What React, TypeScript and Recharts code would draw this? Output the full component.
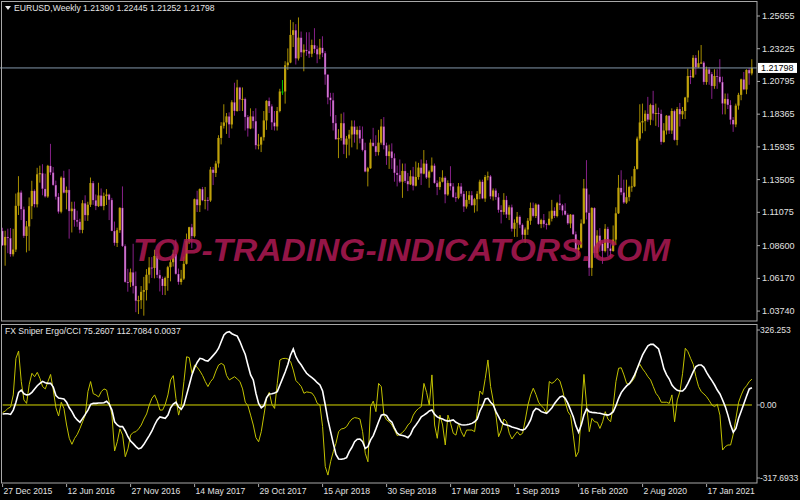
import React from "react";
import {
  ComposedChart,
  LineChart,
  Bar,
  Line,
  XAxis,
  YAxis,
  ReferenceLine,
} from "recharts";

// EURUSD weekly, week of 27 Dec 2015 .. week of 16 May 2021
// open of each week = close of the week before (first week given separately)
const firstOpen = 1.097;

const closes = [
  1.0862, 1.0925, 1.0916, 1.0796, 1.0831, 1.1156, 1.1255, 1.113, 1.0932, 1.1003,
  1.1153, 1.1267, 1.1167, 1.139, 1.1398, 1.1282, 1.1225, 1.1453, 1.1403, 1.131,
  1.1223, 1.1112, 1.1365, 1.1253, 1.1274, 1.1116, 1.1135, 1.105, 1.1038, 1.0977,
  1.1175, 1.1086, 1.1164, 1.1325, 1.1197, 1.1154, 1.1233, 1.1154, 1.1228, 1.124,
  1.12, 1.0969, 1.088, 1.0975, 1.1141, 1.0857, 1.059, 1.0588, 1.0662, 1.0561,
  1.045, 1.0455, 1.0517, 1.053, 1.0644, 1.0698, 1.0694, 1.0784, 1.0642, 1.0615,
  1.056, 1.062, 1.07, 1.0737, 1.0798, 1.065, 1.059, 1.0615, 1.0725, 1.0895,
  1.0997, 1.093, 1.1205, 1.116, 1.128, 1.1196, 1.12, 1.1195, 1.1425, 1.14,
  1.147, 1.166, 1.175, 1.1775, 1.182, 1.176, 1.1925, 1.186, 1.2035, 1.1945,
  1.195, 1.1815, 1.173, 1.182, 1.1785, 1.1605, 1.161, 1.1665, 1.179, 1.1935,
  1.1895, 1.1775, 1.1745, 1.186, 1.2005, 1.2005, 1.22, 1.222, 1.2425, 1.246,
  1.225, 1.2405, 1.2295, 1.2315, 1.2305, 1.2285, 1.235, 1.232, 1.228, 1.233,
  1.229, 1.213, 1.196, 1.194, 1.177, 1.165, 1.166, 1.177, 1.161, 1.1655,
  1.1685, 1.1745, 1.1685, 1.172, 1.1655, 1.157, 1.141, 1.1435, 1.1625, 1.16,
  1.1555, 1.1625, 1.1745, 1.1605, 1.1525, 1.156, 1.151, 1.14, 1.1385, 1.1335,
  1.1415, 1.134, 1.1315, 1.1375, 1.1305, 1.137, 1.144, 1.1395, 1.147, 1.1365,
  1.141, 1.1455, 1.1325, 1.1295, 1.1335, 1.1365, 1.124, 1.1325, 1.13, 1.122,
  1.1215, 1.13, 1.1245, 1.115, 1.12, 1.1235, 1.116, 1.1205, 1.1245, 1.1335,
  1.121, 1.137, 1.1375, 1.1225, 1.127, 1.122, 1.1125, 1.111, 1.12, 1.109,
  1.1145, 1.0985, 1.103, 1.1075, 1.1015, 1.094, 1.098, 1.1045, 1.114, 1.108,
  1.1165, 1.102, 1.105, 1.102, 1.1015, 1.106, 1.112, 1.108, 1.1175, 1.116,
  1.112, 1.109, 1.1025, 1.109, 1.0945, 1.083, 1.0845, 1.1025, 1.1285, 1.1105,
  1.0695, 1.114, 1.0805, 1.0935, 1.0875, 1.082, 1.0985, 1.084, 1.082, 1.0905,
  1.11, 1.129, 1.1255, 1.118, 1.122, 1.1295, 1.13, 1.143, 1.1655, 1.1775,
  1.1785, 1.184, 1.1795, 1.1905, 1.184, 1.1845, 1.184, 1.163, 1.1715, 1.1825,
  1.1715, 1.186, 1.1645, 1.1875, 1.1835, 1.186, 1.196, 1.212, 1.211, 1.2255,
  1.2185, 1.2215, 1.222, 1.2075, 1.217, 1.2135, 1.2045, 1.212, 1.2115, 1.2075,
  1.1915, 1.195, 1.1905, 1.1795, 1.176, 1.19, 1.198, 1.2095, 1.202, 1.2165,
  1.2139, 1.21798,
];

const highs = [
  1.0993, 1.0971, 1.0986, 1.0991, 1.0985, 1.1247, 1.1376, 1.127, 1.115, 1.1043,
  1.1218, 1.1342, 1.1278, 1.1438, 1.1454, 1.1465, 1.1395, 1.146, 1.1616, 1.1444,
  1.1343, 1.125, 1.1375, 1.1416, 1.1299, 1.1428, 1.1186, 1.1187, 1.112, 1.106,
  1.1198, 1.1234, 1.1186, 1.1366, 1.134, 1.124, 1.1327, 1.1285, 1.1254, 1.128,
  1.1246, 1.1215, 1.1039, 1.0993, 1.1145, 1.13, 1.087, 1.0688, 1.069, 1.0874,
  1.0668, 1.0488, 1.056, 1.0628, 1.0686, 1.0775, 1.0775, 1.083, 1.08, 1.068,
  1.063, 1.063, 1.071, 1.076, 1.083, 1.0906, 1.069, 1.068, 1.0779, 1.095,
  1.1, 1.1022, 1.121, 1.1268, 1.1285, 1.1296, 1.1296, 1.122, 1.1445, 1.1445,
  1.149, 1.168, 1.1777, 1.191, 1.1845, 1.185, 1.194, 1.207, 1.2092, 1.204,
  1.2035, 1.196, 1.183, 1.188, 1.186, 1.188, 1.169, 1.167, 1.186, 1.194,
  1.196, 1.191, 1.186, 1.189, 1.2025, 1.209, 1.223, 1.2325, 1.2537, 1.252,
  1.2505, 1.2555, 1.245, 1.2355, 1.2445, 1.2445, 1.239, 1.2475, 1.2345, 1.2395,
  1.2415, 1.2305, 1.2135, 1.1995, 1.1995, 1.183, 1.1725, 1.184, 1.185, 1.1675,
  1.172, 1.179, 1.179, 1.1745, 1.175, 1.1745, 1.1625, 1.1445, 1.165, 1.1735,
  1.168, 1.172, 1.18, 1.1815, 1.1625, 1.161, 1.162, 1.1545, 1.1455, 1.15,
  1.147, 1.147, 1.14, 1.142, 1.1445, 1.1485, 1.1475, 1.15, 1.157, 1.1495,
  1.142, 1.1515, 1.147, 1.1345, 1.137, 1.142, 1.1375, 1.1345, 1.145, 1.1325,
  1.1255, 1.1325, 1.1325, 1.1265, 1.1265, 1.1265, 1.1265, 1.1215, 1.1265, 1.135,
  1.135, 1.1385, 1.141, 1.1385, 1.1285, 1.1285, 1.125, 1.116, 1.125, 1.123,
  1.116, 1.1165, 1.1055, 1.111, 1.1085, 1.1025, 1.0995, 1.1065, 1.118, 1.118,
  1.1175, 1.117, 1.106, 1.1095, 1.103, 1.1115, 1.12, 1.1145, 1.1185, 1.124,
  1.117, 1.1175, 1.11, 1.1095, 1.1095, 1.0965, 1.0865, 1.1055, 1.1355, 1.1495,
  1.124, 1.1145, 1.1145, 1.0975, 1.099, 1.089, 1.102, 1.1, 1.0875, 1.101,
  1.1145, 1.1385, 1.142, 1.135, 1.135, 1.1305, 1.1375, 1.145, 1.167, 1.191,
  1.1915, 1.1865, 1.1965, 1.1915, 1.201, 1.1915, 1.1885, 1.187, 1.177, 1.183,
  1.183, 1.188, 1.187, 1.189, 1.192, 1.189, 1.1965, 1.2175, 1.2165, 1.2275,
  1.2275, 1.231, 1.235, 1.223, 1.219, 1.2185, 1.215, 1.217, 1.217, 1.2245,
  1.2115, 1.199, 1.199, 1.194, 1.1815, 1.1915, 1.1995, 1.21, 1.215, 1.217,
  1.218, 1.22445,
];

const lows = [
  1.0858, 1.0711, 1.0804, 1.0778, 1.078, 1.0813, 1.1088, 1.105, 1.0918, 1.081,
  1.0822, 1.1057, 1.1144, 1.1144, 1.1328, 1.1234, 1.1217, 1.1215, 1.1384, 1.1305,
  1.1202, 1.1098, 1.11, 1.1248, 1.113, 1.0912, 1.0958, 1.1001, 1.1, 1.0952,
  1.0952, 1.1045, 1.1044, 1.1147, 1.1163, 1.1124, 1.1147, 1.115, 1.1123, 1.1162,
  1.105, 1.0967, 1.086, 1.085, 1.0955, 1.085, 1.0585, 1.0518, 1.0552, 1.0505,
  1.0366, 1.0352, 1.039, 1.034, 1.0453, 1.058, 1.062, 1.0617, 1.062, 1.052,
  1.0494, 1.0493, 1.0525, 1.0595, 1.0705, 1.0645, 1.057, 1.057, 1.0605, 1.072,
  1.0872, 1.084, 1.092, 1.111, 1.111, 1.119, 1.113, 1.112, 1.1185, 1.131,
  1.137, 1.144, 1.1612, 1.173, 1.169, 1.166, 1.173, 1.1825, 1.1855, 1.186,
  1.186, 1.1715, 1.167, 1.1725, 1.173, 1.1575, 1.1575, 1.1555, 1.164, 1.172,
  1.1845, 1.172, 1.1715, 1.1715, 1.185, 1.198, 1.1915, 1.2165, 1.2215, 1.2335,
  1.2205, 1.2235, 1.226, 1.2155, 1.227, 1.2255, 1.226, 1.229, 1.2215, 1.2245,
  1.226, 1.2055, 1.191, 1.182, 1.1715, 1.1645, 1.151, 1.164, 1.154, 1.151,
  1.153, 1.159, 1.1625, 1.1575, 1.162, 1.156, 1.1405, 1.13, 1.143, 1.1595,
  1.1525, 1.153, 1.161, 1.1575, 1.146, 1.143, 1.143, 1.1335, 1.13, 1.1325,
  1.1215, 1.1325, 1.1265, 1.131, 1.127, 1.13, 1.135, 1.131, 1.139, 1.1355,
  1.129, 1.1405, 1.132, 1.1235, 1.1275, 1.133, 1.1175, 1.123, 1.127, 1.1215,
  1.1185, 1.1205, 1.1225, 1.111, 1.1135, 1.117, 1.1155, 1.1105, 1.1115, 1.1205,
  1.1205, 1.1185, 1.1345, 1.1205, 1.1195, 1.12, 1.1105, 1.1025, 1.109, 1.1065,
  1.105, 1.0965, 1.0925, 1.0925, 1.099, 1.0905, 1.088, 1.094, 1.1015, 1.107,
  1.1065, 1.1015, 1.099, 1.0995, 1.098, 1.101, 1.104, 1.1065, 1.107, 1.1125,
  1.1085, 1.1085, 1.1015, 1.099, 1.094, 1.0825, 1.078, 1.084, 1.102, 1.1055,
  1.0635, 1.0635, 1.077, 1.077, 1.0815, 1.0725, 1.081, 1.078, 1.0775, 1.0815,
  1.087, 1.1095, 1.1235, 1.117, 1.117, 1.119, 1.126, 1.1295, 1.1425, 1.164,
  1.1695, 1.171, 1.178, 1.1755, 1.179, 1.175, 1.174, 1.161, 1.1625, 1.1685,
  1.169, 1.169, 1.164, 1.1605, 1.1745, 1.18, 1.18, 1.1925, 1.206, 1.2105,
  1.213, 1.218, 1.221, 1.2055, 1.2055, 1.2055, 1.195, 1.2025, 1.2025, 1.2065,
  1.1835, 1.1835, 1.1875, 1.176, 1.1705, 1.174, 1.187, 1.194, 1.2015, 1.1985,
  1.2055, 1.21252,
];

// FX Sniper Ergo/CCI: ergodic line (white) and CCI (yellow)
const ergo = [
  -39, -38, -38, -41, -22, 12, 55, 65, 49, 44,
  46, 55, 70, 84, 94, 103, 97, 94, 94, 78,
  41, 30, 28, 26, 12, -12, -29, -51, -65, -75,
  -58, -41, -22, 3, 7, 7, 9, 9, 10, 16,
  3, -22, -73, -87, -94, -94, -113, -138, -157, -168,
  -181, -191, -186, -171, -152, -133, -113, -87, -65, -52,
  -55, -58, -44, -12, 4, 12, -9, -19, 0, 44,
  87, 131, 162, 186, 203, 200, 194, 191, 203, 216,
  229, 247, 276, 305, 316, 319, 310, 305, 300, 276,
  247, 220, 174, 131, 109, 51, 7, -12, -3, 32,
  48, 49, 52, 58, 87, 116, 145, 177, 218, 244,
  210, 189, 174, 155, 138, 128, 119, 109, 97, 87,
  61, 0, -65, -116, -167, -215, -235, -236, -234, -229,
  -203, -184, -160, -149, -148, -160, -189, -181, -152, -133,
  -104, -73, -44, -41, -46, -65, -75, -102, -123, -131,
  -133, -136, -142, -128, -102, -87, -70, -51, -44, -36,
  -26, -22, -41, -52, -58, -61, -67, -70, -68, -65,
  -75, -81, -86, -87, -86, -84, -80, -73, -61, -26,
  -3, 26, 29, 12, 0, -29, -51, -73, -84, -87,
  -90, -96, -99, -102, -107, -109, -104, -87, -65, -29,
  -15, -19, -29, -33, -36, -25, -12, 7, 22, 35,
  39, 29, 7, -22, -51, -91, -119, -87, -44, -17,
  -29, -32, -33, -35, -36, -39, -42, -44, -39, -29,
  -3, 29, 54, 70, 83, 93, 109, 131, 160, 189,
  218, 239, 257, 264, 264, 254, 244, 203, 157, 131,
  113, 87, 73, 64, 61, 61, 73, 94, 119, 145,
  167, 174, 174, 164, 142, 123, 106, 87, 65, 48,
  22, -7, -44, -87, -119, -102, -58, -26, 7, 39,
  70, 75.2607,
];

const cci = [
  -33, -26, -15, -9, 44, 203, 235, 102, 22, 7,
  90, 138, 123, 142, 116, 80, 70, 102, 133, 65,
  -12, -48, 12, -15, -87, -145, -171, -145, -128, -102,
  -73, -44, 58, 102, 49, 44, 35, 58, 70, 65,
  12, -44, -200, -160, -104, -131, -225, -191, -131, -119,
  -116, -104, -87, -61, -39, 0, 29, 44, 17, -22,
  -22, 3, 44, 109, 128, 29, -44, 0, 102, 210,
  206, 138, 174, 164, 148, 128, 102, 80, 102, 116,
  148, 174, 181, 174, 128, 109, 116, 123, 113, 102,
  70, 12, -3, -44, -87, -142, -160, -116, -44, 29,
  55, 3, -15, 94, 196, 202, 203, 200, 189, 152,
  106, 94, 80, 51, 57, 55, 52, 36, 7, 0,
  -94, -268, -305, -247, -203, -167, -116, -104, -102, -94,
  -75, -61, -55, -57, -61, -116, -210, -247, -7, 17,
  -29, 94, 80, -44, -65, -73, -87, -109, -133, -128,
  -119, -106, -87, -75, -44, -26, -15, -7, 94, 55,
  0, 131, -87, -145, -44, -87, -174, -44, -80, -123,
  -131, -80, -116, -138, -109, -109, -109, -116, -29, 61,
  46, 116, 196, 80, 17, -44, -138, -109, -61, -73,
  -123, -148, -131, -116, -131, -123, -65, 0, 44, 73,
  46, 12, -3, -15, -38, 102, 94, 102, 116, 104,
  65, 12, -29, -46, -131, -225, -203, -44, 133, 0,
  -116, -58, -73, -75, -102, -73, -29, -61, -73, -3,
  102, 160, 162, 131, 94, 90, 102, 119, 160, 177,
  157, 142, 123, 109, 80, 51, 36, 12, 12, 12,
  7, 44, -73, 22, 58, 138, 247, 232, 203, 177,
  123, 80, 58, 48, 36, 19, 0, -7, 3, -44,
  -196, -181, -174, -174, -126, -58, 12, 44, 70, 84,
  102, 112.7084,
];
const signalLast = 0.0037;

const priceTicks = [
  1.25655, 1.23225, 1.20795, 1.18365, 1.15935, 1.13505, 1.11075, 1.086, 1.0617, 1.0374,
];
const oscTicks = [326.253, 0, -317.6933];
const oscTickLabels = ["326.253", "0.00", "-317.6933"];
const dateTickIdx = [0, 24, 48, 72, 96, 120, 144, 168, 192, 216, 240, 264];
const dateTickLabels = [
  "27 Dec 2015", "12 Jun 2016", "27 Nov 2016", "14 May 2017", "29 Oct 2017", "15 Apr 2018",
  "30 Sep 2018", "17 Mar 2019", "1 Sep 2019", "16 Feb 2020", "2 Aug 2020", "17 Jan 2021",
];

const FONT = '"Liberation Sans", Arial, sans-serif';
const FRAME = "#a8a8a8";
const X_DOMAIN = [-0.975, 282.9];

const candles = closes.map((c, i) => ({
  i,
  open: i === 0 ? firstOpen : closes[i - 1],
  high: highs[i],
  low: lows[i],
  close: c,
  range: [lows[i], highs[i]],
}));

const osc = ergo.map((e, i) => ({ i, ergo: e, cci: cci[i] }));

const last = candles[candles.length - 1];
const f5 = (v: number) => v.toFixed(5);

function Candle(props: any) {
  const { x, y, width, height, payload } = props;
  const { open, close, high, low } = payload;
  const cx = x + width / 2;
  const py = (v: number) => y + ((high - v) / (high - low)) * height;
  const top = py(Math.max(open, close));
  const bot = py(Math.min(open, close));
  const doji = open === close;
  const up = close > open;
  const wick = doji ? "#00c000" : up ? "#a48c00" : "#862088";
  const body = doji ? "#00c000" : up ? "#bfa10a" : "#de90de";
  return (
    <g>
      <rect x={cx - 0.5} y={y} width={1} height={height} fill={wick} />
      <rect x={cx - 1.1} y={top} width={2.2} height={Math.max(bot - top, 1)} fill={up ? body : wick} />
      {!up && !doji && (
        <rect x={cx - 0.6} y={top + 0.3} width={1.2} height={Math.max(bot - top - 0.6, 0.6)} fill={body} />
      )}
    </g>
  );
}

function PriceTick(props: any) {
  const { x, y, payload } = props;
  return (
    <text x={x} y={y} dy={3} fontSize={9} fontFamily={FONT} fill="#e2e2e2" textAnchor="start">
      {f5(payload.value)}
    </text>
  );
}

function OscTick(props: any) {
  const { x, y, payload } = props;
  const k = oscTicks.indexOf(payload.value);
  return (
    <text x={x} y={y} dy={3} fontSize={8.5} fontFamily={FONT} fill="#e2e2e2" textAnchor="start">
      {oscTickLabels[k]}
    </text>
  );
}

function DateTick(props: any) {
  const { x, y, payload } = props;
  const k = dateTickIdx.indexOf(payload.value);
  return (
    <g>
      <line x1={x} x2={x} y1={y + 1} y2={y + 4} stroke={FRAME} />
      <text x={x + 1} y={y + 11} fontSize={8.6} fontFamily={FONT} fill="#e2e2e2" textAnchor="start">
        {dateTickLabels[k]}
      </text>
    </g>
  );
}

function PriceTag(props: any) {
  const { viewBox } = props;
  const x = viewBox.x + viewBox.width + 1;
  const y = viewBox.y;
  return (
    <g>
      <rect x={x} y={y - 5} width={39} height={10} fill="#ffffff" />
      <text x={x + 3} y={y + 3.5} fontSize={9} fontFamily={FONT} fill="#000000">
        {f5(last.close)}
      </text>
    </g>
  );
}

export default function App() {
  return (
    <div
      style={{
        position: "absolute",
        left: 0,
        top: 0,
        width: 800,
        height: 500,
        background: "#000000",
        overflow: "hidden",
      }}
    >
      <div style={{ position: "absolute", left: 0, top: 0 }}>
        <ComposedChart width={800} height={321} data={candles} margin={{ top: 0, right: 0, bottom: 0, left: 0 }}>
          <XAxis dataKey="i" type="number" domain={X_DOMAIN} allowDataOverflow hide />
          <YAxis
            orientation="right"
            width={43}
            domain={[1.03004, 1.26844]}
            allowDataOverflow
            ticks={priceTicks}
            interval={0}
            tick={<PriceTick />}
            tickSize={3}
            tickMargin={2}
            axisLine={false}
            tickLine={{ stroke: FRAME }}
          />
          <ReferenceLine y={last.close} stroke="#8397aa" strokeWidth={1} label={<PriceTag />} />
          <Bar dataKey="range" barSize={3} shape={<Candle />} isAnimationActive={false} />
        </ComposedChart>
      </div>

      <div style={{ position: "absolute", left: 0, top: 324 }}>
        <LineChart width={800} height={176} data={osc} margin={{ top: 1, right: 0, bottom: 0, left: 0 }}>
          <XAxis
            dataKey="i"
            type="number"
            domain={X_DOMAIN}
            allowDataOverflow
            ticks={dateTickIdx}
            interval={0}
            tick={<DateTick />}
            tickSize={0}
            tickMargin={0}
            axisLine={false}
            height={17}
          />
          <YAxis
            orientation="right"
            width={43}
            domain={[-339.4, 348.1]}
            allowDataOverflow
            ticks={oscTicks}
            interval={0}
            tick={<OscTick />}
            tickSize={3}
            tickMargin={0}
            axisLine={false}
            tickLine={{ stroke: FRAME }}
          />
          <ReferenceLine
            segment={[
              { x: osc[0].i, y: signalLast },
              { x: osc[osc.length - 1].i, y: signalLast },
            ]}
            stroke="#d6d600"
            strokeWidth={1}
          />
          <Line dataKey="cci" type="linear" stroke="#c2c200" strokeWidth={1} dot={false} isAnimationActive={false} />
          <Line dataKey="ergo" type="linear" stroke="#ffffff" strokeWidth={1.6} dot={false} isAnimationActive={false} />
        </LineChart>
      </div>

      <svg
        width={800}
        height={500}
        style={{ position: "absolute", left: 0, top: 0, pointerEvents: "none" }}
      >
        <rect x={1.5} y={1.5} width={755.5} height={319.5} fill="none" stroke={FRAME} />
        <rect x={1.5} y={324.5} width={755.5} height={158.5} fill="none" stroke={FRAME} />
        <polygon points="5,6 11,6 8,10" fill="#e6e6e6" />
        <text x={14} y={11} fontSize={8.6} fontFamily={FONT} fill="#e6e6e6">
          {`EURUSD,Weekly  ${f5(last.open)} ${f5(last.high)} ${f5(last.low)} ${f5(last.close)}`}
        </text>
        <text x={5} y={334} fontSize={8.6} fontFamily={FONT} fill="#e6e6e6">
          {`FX Sniper Ergo/CCI  ${ergo[ergo.length - 1].toFixed(4)} ${cci[cci.length - 1].toFixed(4)} ${signalLast.toFixed(4)}`}
        </text>
        <text
          x={133}
          y={261}
          fontSize={32}
          fontWeight="bold"
          fontStyle="italic"
          fontFamily={FONT}
          fill="#b01a55"
          fillOpacity={0.85}
          textLength={537}
          lengthAdjust="spacingAndGlyphs"
        >
          TOP-TRADING-INDICATORS.COM
        </text>
      </svg>
    </div>
  );
}
